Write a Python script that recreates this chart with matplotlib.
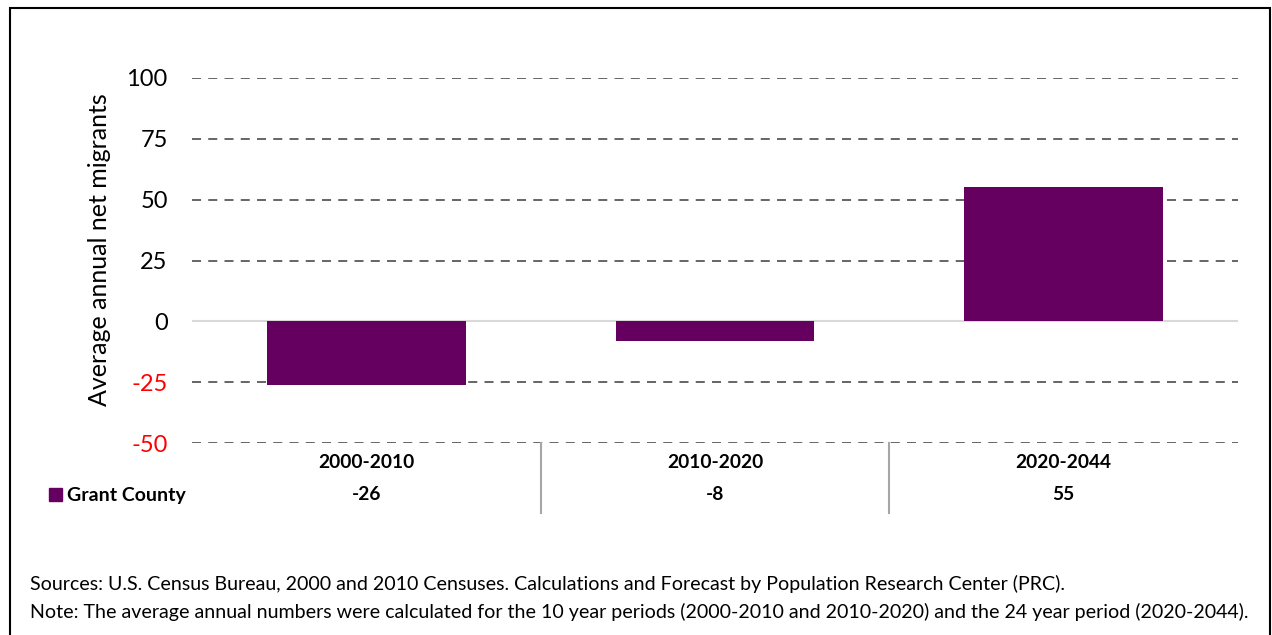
import matplotlib.pyplot as plt
from matplotlib.patches import Rectangle
from matplotlib.lines import Line2D

plt.rcParams['font.family'] = ['Lato', 'DejaVu Sans']

# data
periods = ['2000-2010', '2010-2020', '2020-2044']
values = [-26, -8, 55]
series_name = 'Grant County'
yticks = [-50, -25, 0, 25, 50, 75, 100]

bar_color = '#660060'
grid_color = '#595959'

fig = plt.figure(figsize=(12.72, 6.35), dpi=100)
W, H = 1272, 635

# outer border
fig.patches.append(Rectangle((10 / W, -0.01), 1260 / W, 1 - 8 / H + 0.01,
                             transform=fig.transFigure, fill=False,
                             edgecolor='black', linewidth=1.5))

ax = fig.add_axes([192 / W, 1 - 443 / H, (1238 - 192) / W, (443 - 78) / H])
x = list(range(len(periods)))
ax.bar(x, values, width=0.57, color=bar_color, zorder=3)
ax.set_xlim(-0.5, len(periods) - 0.5)
ax.set_ylim(-50, 100)

for t in yticks:
    if t == 0:
        ax.axhline(t, color='#d9d9d9', linewidth=1.5, zorder=2)
    else:
        ax.axhline(t, color=grid_color, linewidth=1.3, linestyle=(0, (5, 4)), zorder=1)

ax.set_yticks(yticks)
ax.set_yticklabels([str(t) for t in yticks], fontsize=17)
for lbl, t in zip(ax.get_yticklabels(), yticks):
    if t < 0:
        lbl.set_color('red')
ax.tick_params(axis='y', length=0, pad=17.5)
ax.set_xticks([])
for s in ax.spines.values():
    s.set_visible(False)
ax.set_ylabel('Average annual net migrants', fontsize=18)
ax.yaxis.set_label_coords(-0.077, 0.529)

# data table under the plot
to_fig_y = lambda py: 1 - py / H
for i, (p, v) in enumerate(zip(periods, values)):
    xc = ax.transData.transform((i, 0))[0] / W
    fig.text(xc, to_fig_y(462), p, ha='center', va='center',
             fontsize=13.8, fontweight='bold')
    fig.text(xc, to_fig_y(495), str(v), ha='center', va='center',
             fontsize=13.8, fontweight='bold')
for b in [0.5, 1.5]:
    xb = ax.transData.transform((b, 0))[0] / W
    fig.lines.append(Line2D([xb, xb], [to_fig_y(443), to_fig_y(513)],
                            transform=fig.transFigure, color='#a6a6a6', linewidth=1.5))

fig.patches.append(Rectangle((49 / W, to_fig_y(501)), 13 / W, 13 / H,
                             transform=fig.transFigure, color=bar_color))
fig.text(67 / W, to_fig_y(495), series_name, ha='left', va='center',
         fontsize=14, fontweight='bold')

fig.text(30 / W, to_fig_y(584), 'Sources: U.S. Census Bureau, 2000 and 2010 Censuses. '
         'Calculations and Forecast by Population Research Center (PRC).',
         ha='left', va='center', fontsize=14.1)
fig.text(30 / W, to_fig_y(612), 'Note: The average annual numbers were calculated for the '
         '10 year periods (2000-2010 and 2010-2020) and the 24 year period (2020-2044).',
         ha='left', va='center', fontsize=14.1)

fig.savefig('out.png', dpi=100)
